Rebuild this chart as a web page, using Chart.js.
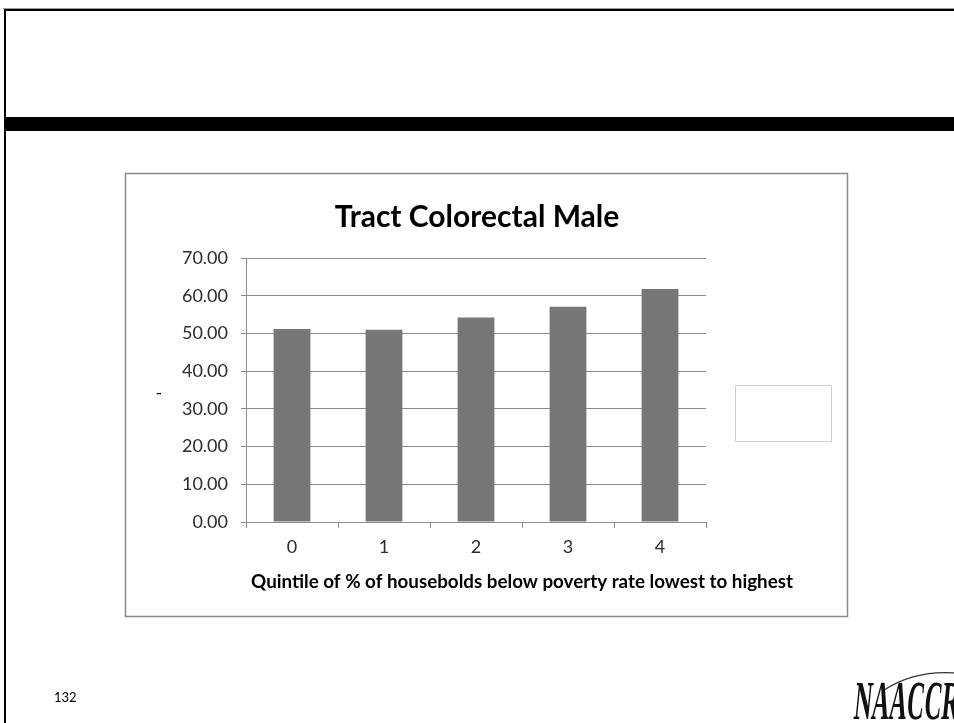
<!DOCTYPE html>
<html>
<head>
<meta charset="utf-8">
<script src="https://cdn.jsdelivr.net/npm/chart.js@4/dist/chart.umd.min.js"></script>
<style>
  html, body { margin: 0; padding: 0; background: #ffffff; }
  #wrap { position: relative; width: 954px; height: 723px; }
</style>
</head>
<body>
<div id="wrap"><canvas id="c" width="954" height="723"></canvas></div>
<script>
// Quintile categories and rates
const quintiles = ['0', '1', '2', '3', '4'];
const rates = [51.2, 51.0, 54.2, 57.1, 61.8];
const yTicks = [0, 10, 20, 30, 40, 50, 60, 70];

const chartTitle = 'Tract Colorectal Male';
const xAxisTitle = 'Quintile of % of housebolds below poverty rate lowest to highest';
const yAxisTitle = '-';
const pageNumber = '132';
const logoText = 'NAACCR';

const FONT = 'Lato, "Open Sans", sans-serif';

// Slide furniture: frame, header band, chart box, empty legend box, footer
const slidePlugin = {
  id: 'slide',
  beforeDraw(chart) {
    const ctx = chart.ctx;
    ctx.save();
    ctx.fillStyle = '#ffffff';
    ctx.fillRect(0, 0, 954, 723);
    // slide frame
    ctx.fillStyle = '#9a9a9a';
    ctx.fillRect(3, 8, 951, 1);
    ctx.fillStyle = '#000000';
    ctx.fillRect(4, 9, 950, 2);
    ctx.fillRect(4, 9, 2, 714);
    // header band
    ctx.fillRect(4, 117, 950, 14);
    // chart box
    ctx.strokeStyle = '#8a8a8a';
    ctx.lineWidth = 1.5;
    ctx.strokeRect(125.5, 173.5, 722, 443);
    // empty legend box
    ctx.strokeStyle = '#cfcfcf';
    ctx.lineWidth = 1;
    ctx.strokeRect(735.5, 385.5, 96, 56);
    ctx.restore();
  },
  afterDraw(chart) {
    const ctx = chart.ctx;
    ctx.save();
    // chart title
    ctx.fillStyle = '#000000';
    ctx.font = 'bold 30px ' + FONT;
    ctx.textAlign = 'center';
    ctx.textBaseline = 'middle';
    ctx.fillText(chartTitle, 477, 217);
    // x axis title
    ctx.font = 'bold 18.8px ' + FONT;
    ctx.fillText(xAxisTitle, 522, 582);
    // y axis title
    ctx.font = '17px ' + FONT;
    ctx.fillText(yAxisTitle, 159, 394);
    // page number
    ctx.font = '13px ' + FONT;
    ctx.textAlign = 'left';
    ctx.fillText(pageNumber, 54, 698);
    // logo
    ctx.save();
    ctx.translate(853, 719);
    ctx.transform(0.44, 0, -0.1, 1, 0, 0);
    ctx.font = 'bold 55px "Liberation Serif", serif';
    ctx.textBaseline = 'alphabetic';
    ctx.fillStyle = '#111111';
    ctx.fillText(logoText, 0, 0);
    ctx.restore();
    ctx.beginPath();
    ctx.strokeStyle = '#333333';
    ctx.lineWidth = 1.2;
    ctx.moveTo(884, 690);
    ctx.quadraticCurveTo(915, 670, 956, 673);
    ctx.stroke();
    ctx.restore();
  }
};

new Chart(document.getElementById('c'), {
  type: 'bar',
  data: {
    labels: quintiles,
    datasets: [{
      data: rates,
      backgroundColor: '#777777',
      borderWidth: 0,
      barPercentage: 0.4,
      categoryPercentage: 1.0
    }]
  },
  options: {
    responsive: false,
    animation: false,
    devicePixelRatio: 1,
    layout: { padding: { left: 0, top: 258, right: 248, bottom: 161 } },
    plugins: {
      legend: { display: false },
      title: { display: false },
      tooltip: { enabled: false }
    },
    scales: {
      x: {
        afterFit(s) { s.height = 40; },
        grid: {
          display: true,
          drawOnChartArea: false,
          drawTicks: true,
          tickLength: 6,
          color: '#8c8c8c',
          offset: true
        },
        border: { display: true, color: '#8c8c8c', width: 1 },
        ticks: {
          color: '#2b2b2b',
          font: { family: FONT, size: 18 },
          padding: 8
        }
      },
      y: {
        min: 0,
        max: 70,
        afterFit(s) { s.width = 246; },
        afterBuildTicks(s) { s.ticks = yTicks.map(v => ({ value: v })); },
        grid: {
          color: '#8c8c8c',
          drawTicks: true,
          tickLength: 5
        },
        border: { display: true, color: '#8c8c8c', width: 1 },
        ticks: {
          color: '#2b2b2b',
          font: { family: FONT, size: 18 },
          padding: 13,
          callback: v => Number(v).toFixed(2)
        }
      }
    }
  },
  plugins: [slidePlugin]
});
</script>
</body>
</html>
